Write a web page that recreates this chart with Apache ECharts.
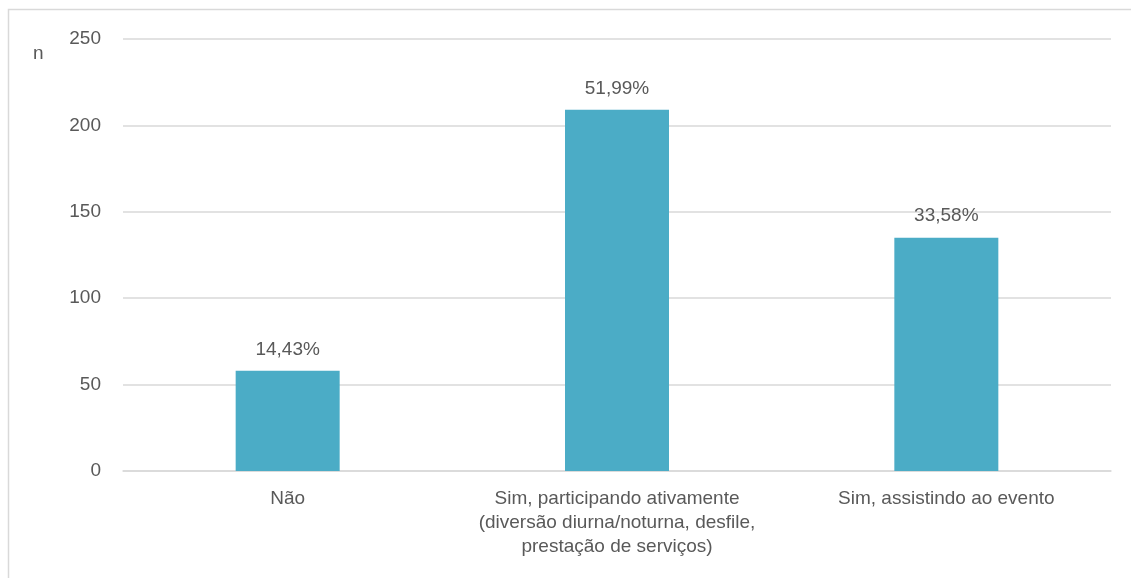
<!DOCTYPE html>
<html>
<head>
<meta charset="utf-8">
<style>
  html, body { margin: 0; padding: 0; background: #fff; }
  #chart { width: 1131px; height: 578px; }
</style>
<script src="https://cdn.jsdelivr.net/npm/echarts@6/dist/echarts.min.js"></script>
</head>
<body>
<div id="chart"></div>
<script>
// Respondents by participation in the event
const categories = [
  'Não',
  'Sim, participando ativamente\n(diversão diurna/noturna, desfile,\nprestação de serviços)',
  'Sim, assistindo ao evento'
];
const counts = [58, 209, 135];
const yTicks = { min: 0, max: 250, interval: 50 };

const total = counts.reduce((a, b) => a + b, 0);
const fmtPct = v => (v / total * 100).toFixed(2).replace('.', ',') + '%';

const textColor = '#595959';
const fontFamily = '"Liberation Sans", Arial, sans-serif';
const fontSize = 19;

const chart = echarts.init(document.getElementById('chart'), null, { renderer: 'canvas' });
chart.setOption({
  animation: false,
  backgroundColor: '#ffffff',
  graphic: [{
    type: 'rect',
    shape: { x: 8.5, y: 9.5, width: 1140, height: 600 },
    style: { fill: 'none', stroke: '#d9d9d9', lineWidth: 1.5 },
    silent: true
  }, {
    type: 'text',
    left: 33, top: 44,
    style: { text: 'n', fill: textColor, font: fontSize + 'px ' + fontFamily }
  }],
  grid: { left: 123, right: 20, top: 39, bottom: 107, containLabel: false },
  xAxis: {
    type: 'category',
    data: categories,
    axisLine: { show: true, lineStyle: { color: '#d9d9d9', width: 1.5 } },
    axisTick: { show: false },
    axisLabel: {
      color: textColor, fontSize: fontSize, fontFamily: fontFamily,
      lineHeight: 24, margin: 16, interval: 0, align: 'center'
    }
  },
  yAxis: {
    type: 'value',
    min: yTicks.min, max: yTicks.max, interval: yTicks.interval,
    axisLine: { show: false },
    axisTick: { show: false },
    splitLine: { lineStyle: { color: '#d9d9d9', width: 1.5 } },
    axisLabel: { color: textColor, fontSize: fontSize, fontFamily: fontFamily, margin: 22 }
  },
  series: [{
    type: 'bar',
    data: counts,
    barWidth: 104,
    itemStyle: { color: '#4bacc6' },
    label: {
      show: true, position: 'top', distance: 12,
      color: textColor, fontSize: fontSize, fontFamily: fontFamily,
      formatter: p => fmtPct(p.value)
    }
  }]
});
</script>
</body>
</html>
